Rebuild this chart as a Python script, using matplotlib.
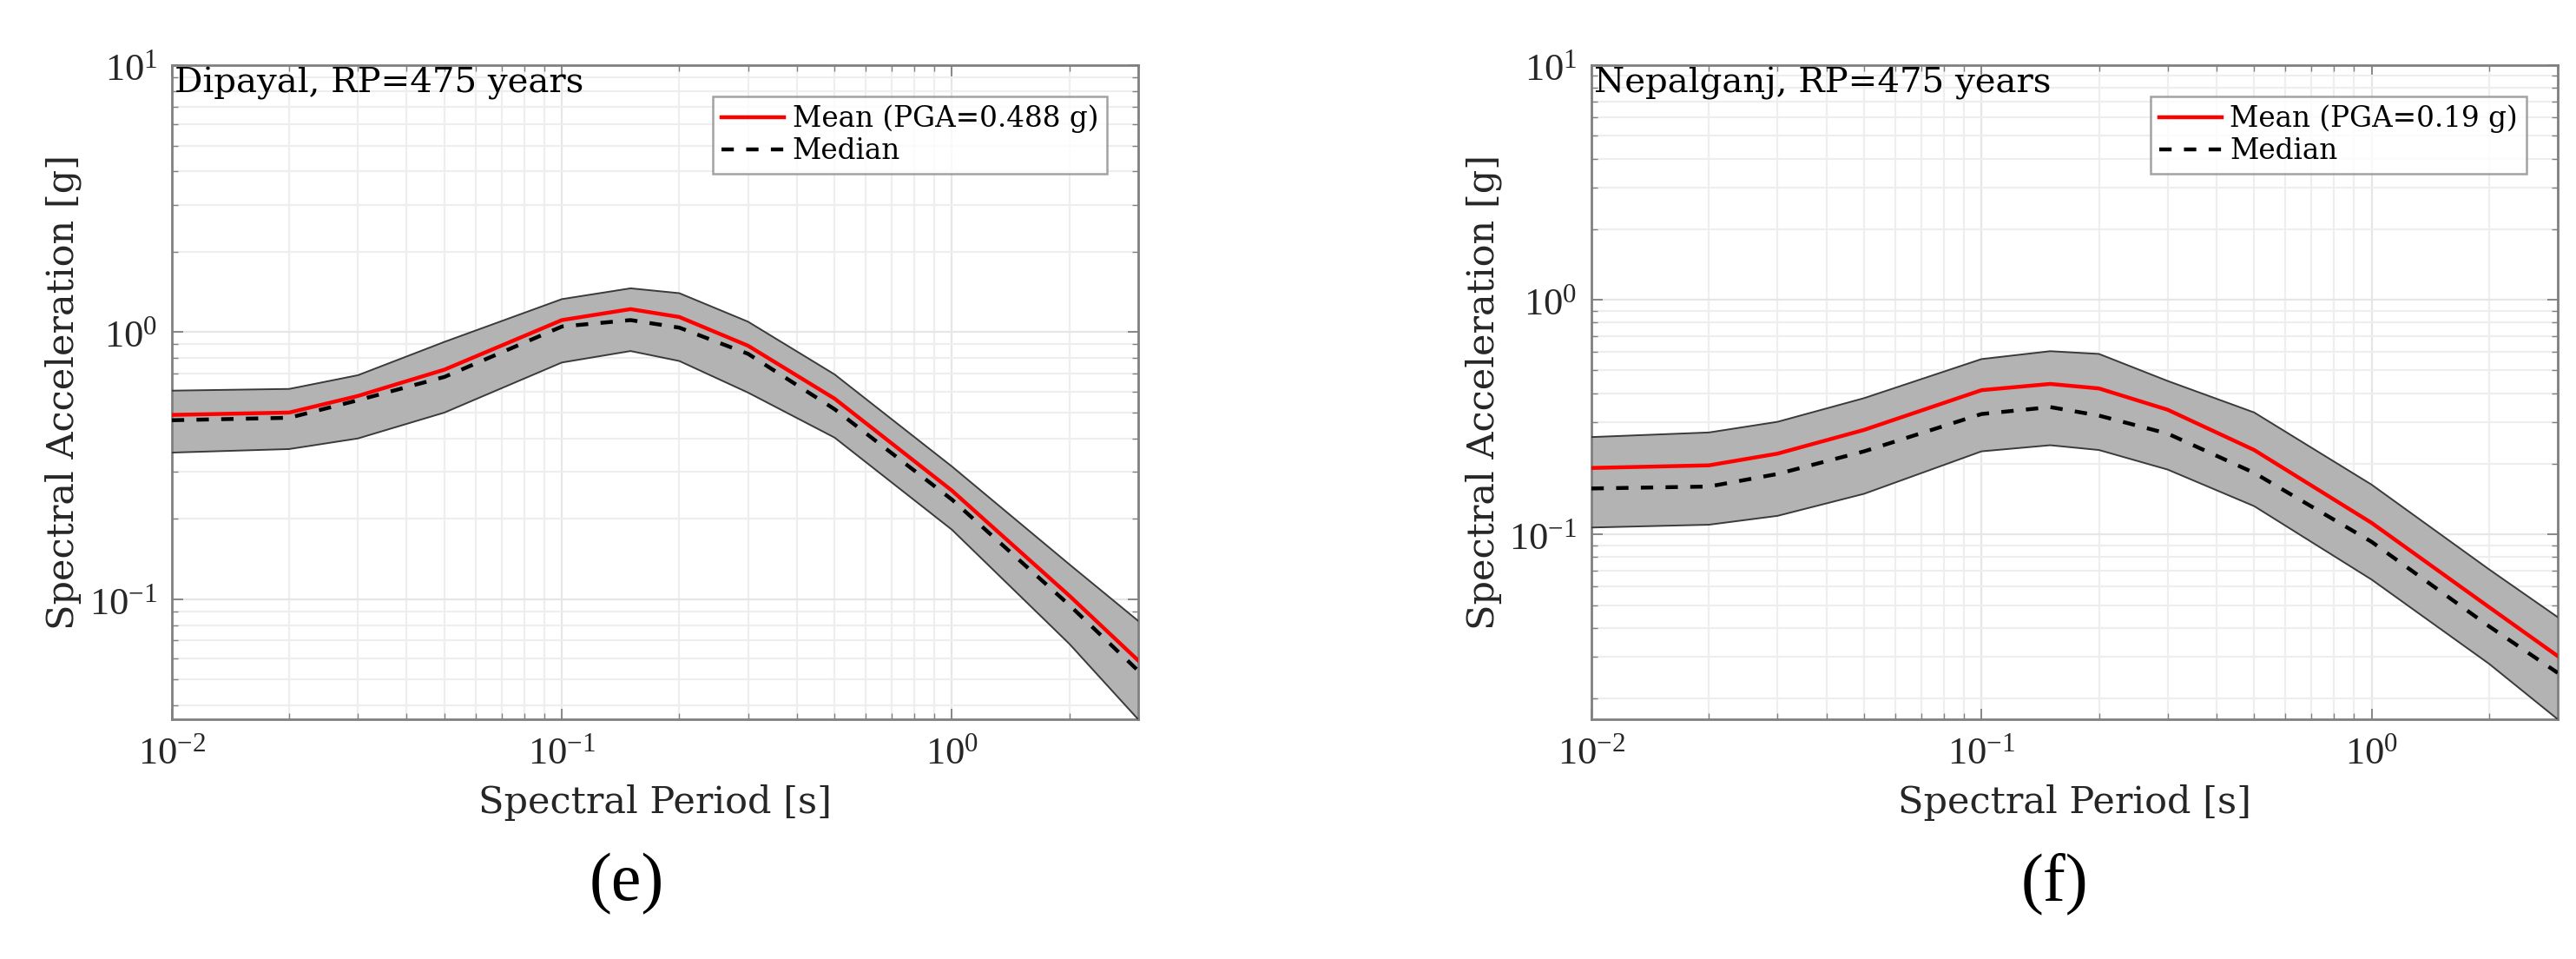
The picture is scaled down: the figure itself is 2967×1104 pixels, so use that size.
import numpy as np
import matplotlib
matplotlib.use("Agg")
import matplotlib.pyplot as plt
from matplotlib.ticker import LogLocator, NullFormatter, FuncFormatter

plt.rcParams['font.family'] = ['DejaVu Serif', 'Liberation Serif']
plt.rcParams['mathtext.fontset'] = 'custom'
plt.rcParams['mathtext.rm'] = 'Liberation Serif'
plt.rcParams['mathtext.it'] = 'Liberation Serif:italic'
plt.rcParams['mathtext.bf'] = 'Liberation Serif:bold'

# spectral periods [s]
periods = [0.01, 0.02, 0.03, 0.05, 0.1, 0.15, 0.2, 0.3, 0.5, 1.0, 2.0, 3.0]

# Dipayal, RP=475 years
dip_mean = [0.49, 0.50, 0.577, 0.724, 1.11, 1.22, 1.14, 0.89, 0.564, 0.255, 0.103, 0.059]
dip_median = [0.468, 0.478, 0.556, 0.68, 1.05, 1.11, 1.04, 0.83, 0.515, 0.236, 0.095, 0.054]
dip_upper = [0.604, 0.613, 0.69, 0.92, 1.33, 1.46, 1.40, 1.095, 0.695, 0.314, 0.135, 0.083]
dip_lower = [0.354, 0.365, 0.40, 0.50, 0.77, 0.85, 0.78, 0.594, 0.403, 0.182, 0.068, 0.0355]

# Nepalganj, RP=475 years
nep_mean = [0.192, 0.197, 0.221, 0.279, 0.412, 0.438, 0.419, 0.340, 0.229, 0.112, 0.049, 0.0303]
nep_median = [0.157, 0.160, 0.181, 0.226, 0.326, 0.349, 0.321, 0.269, 0.183, 0.093, 0.0406, 0.0257]
nep_upper = [0.260, 0.272, 0.302, 0.381, 0.559, 0.604, 0.588, 0.451, 0.331, 0.163, 0.071, 0.0444]
nep_lower = [0.107, 0.110, 0.120, 0.149, 0.226, 0.240, 0.229, 0.189, 0.132, 0.0642, 0.0281, 0.0163]

panels = [
    ("Dipayal, RP=475 years", "Mean (PGA=0.488 g)", dip_mean, dip_median, dip_upper, dip_lower, "(e)"),
    ("Nepalganj, RP=475 years", "Mean (PGA=0.19 g)", nep_mean, nep_median, nep_upper, nep_lower, "(f)"),
]
ax_lefts = [0.0667, 0.6178]
tag_x = [0.2433, 0.7975]


def decade_label(v, pos):
    return r'$10^{%d}$' % int(round(np.log10(v)))


fig = plt.figure(figsize=(29.67, 11.04), dpi=100)

for i, (site, mean_lbl, mean, median, upper, lower, tag) in enumerate(panels):
    ax = fig.add_axes([ax_lefts[i], 0.25, 0.3751, 0.682])
    ax.set_xscale('log')
    ax.set_yscale('log')

    ax.fill_between(periods, lower, upper, facecolor='#b3b3b3', edgecolor='none', zorder=2)
    ax.plot(periods, upper, color='#3a3a3a', lw=1.4, zorder=3)
    ax.plot(periods, lower, color='#3a3a3a', lw=1.4, zorder=3)
    ax.plot(periods, mean, color='#ff0000', lw=3.2, zorder=4, label=mean_lbl)
    ax.plot(periods, median, color='black', lw=3.2, ls=(0, (3.2, 3.2)), zorder=4, label='Median')

    ax.set_xlim(0.01, 3)
    ax.set_ylim(min(lower), 10)

    for axis in (ax.xaxis, ax.yaxis):
        axis.set_major_locator(LogLocator(base=10))
        axis.set_major_formatter(FuncFormatter(decade_label))
        axis.set_minor_locator(LogLocator(base=10, subs=np.arange(2, 10)))
        axis.set_minor_formatter(NullFormatter())

    ax.grid(which='major', color='#e6e6e6', lw=1.6, zorder=0)
    ax.grid(which='minor', color='#eeeeee', lw=1.6, zorder=0)
    ax.set_axisbelow(True)

    ax.tick_params(which='both', direction='in', top=True, right=True,
                   color='#808080', labelcolor='#262626', labelsize=32)
    ax.tick_params(which='major', length=9, width=1.3, pad=12)
    ax.tick_params(which='minor', length=5, width=1.0)
    for s in ax.spines.values():
        s.set_color('#808080')
        s.set_linewidth(2.0)

    ax.set_xlabel('Spectral Period [s]', fontsize=31, color='#262626')
    ax.set_ylabel('Spectral Acceleration [g]', fontsize=31, color='#262626')
    ax.xaxis.set_label_coords(0.5, -0.1)
    ax.yaxis.set_label_coords(-0.093, 0.5)

    ax.text(0.003, 0.998, site, transform=ax.transAxes, ha='left', va='top',
            fontsize=29, color='black', zorder=6)

    leg = ax.legend(loc='upper right', fontsize=23.5, frameon=True, fancybox=False,
                    borderaxespad=1.1, handlelength=2.2, handletextpad=0.3,
                    labelspacing=0.15, borderpad=0.3)
    leg.get_frame().set_edgecolor('#8c8c8c')
    leg.get_frame().set_linewidth(1.8)
    leg.set_zorder(7)

    fig.text(tag_x[i], 0.078, tag, ha='center', va='center', fontsize=56,
             color='black', family='Liberation Serif')

fig.savefig('out.png', dpi=100)
